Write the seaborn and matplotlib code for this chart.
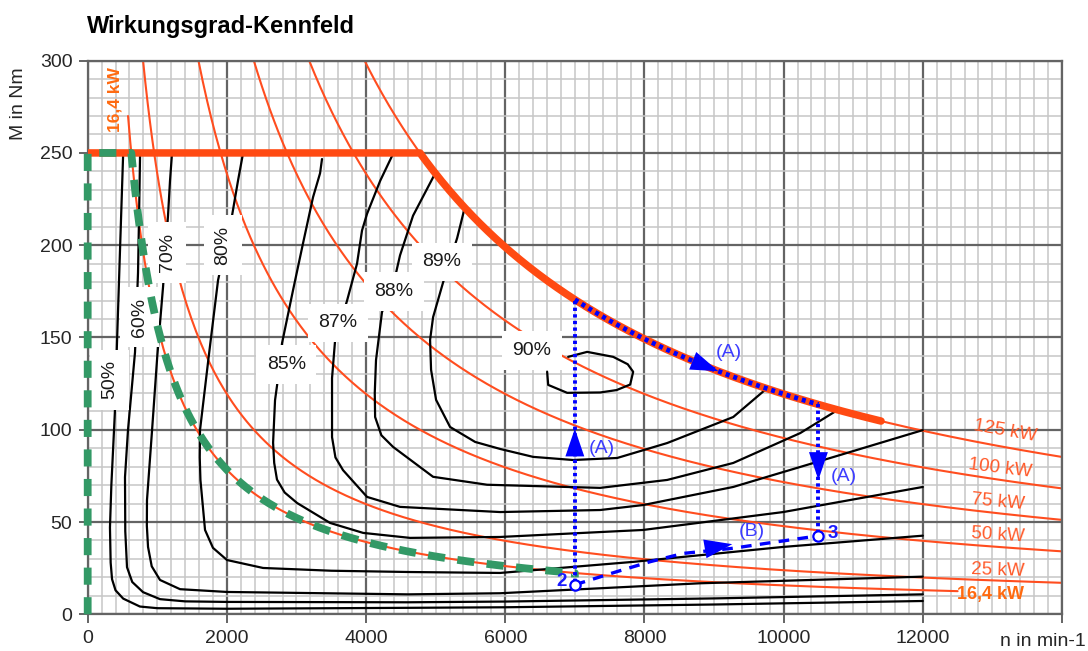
import numpy as np
import matplotlib
matplotlib.use("Agg")
import matplotlib.pyplot as plt
import seaborn as sns
from matplotlib.ticker import MultipleLocator

# ---------------------------------------------------------------- axes ticks
speed_ticks = [0, 2000, 4000, 6000, 8000, 10000, 12000, 14000]
speed_tick_labels = ["0", "2000", "4000", "6000", "8000", "10000", "12000", ""]
torque_ticks = [0, 50, 100, 150, 200, 250, 300]

# ---------------------------------------------------- constant-power curves
power_kw = [25, 50, 75, 100, 125]
power_labels = ["25 kW", "50 kW", "75 kW", "100 kW", "125 kW"]
power_label_n = [13085, 13085, 13085, 13114, 13186]
power_label_m = [24.0, 43.0, 60.9, 79.3, 99.4]
power_label_rot = [-2.0, -3.6, -5.4, -7.0, -10.0]

part_load_kw = 16.4
part_load_text = "16,4 kW"
part_load_start_m = 270
part_load_end_n = 12500

# full-load limit: constant torque, then constant power
max_torque = 250
max_power = 125
max_curve_end_n = 11400

# ------------------------------------------------ efficiency iso-lines
eta50_n = [510, 465, 420, 390, 340, 320, 330, 350, 400, 510, 750, 1000, 2000, 4600, 6000, 9000, 12000]
eta50_m = [250, 198, 146, 109, 70, 47, 28, 19, 13, 8.5, 4.2, 3.3, 3.0, 3.5, 3.8, 5.3, 7.2]

eta60_n = [753, 740, 723, 680, 579, 536, 540, 565, 640, 795, 1039, 1400, 2000, 4600, 6000, 9000, 12000]
eta60_m = [250, 220, 185, 142, 99.8, 74.3, 45, 25.5, 17.5, 12.0, 8.2, 7.0, 6.7, 6.5, 6.9, 8.6, 10.8]

eta70_n = [1212, 1183, 1154, 1083, 1000, 925, 852, 850, 867, 920, 1039, 1327, 2000, 4600, 5926, 8800, 12000]
eta70_m = [250, 235, 216, 177.5, 140, 99.8, 61.9, 48, 36.5, 26, 18.6, 13.6, 12.1, 10.8, 11.4, 16.8, 20.4]

eta80_n = [2233, 2160, 2074, 1873, 1740, 1614, 1610, 1620, 1686, 1800, 2002, 2520, 3500, 4632, 5926, 7838, 9994, 12000]
eta80_m = [250, 235, 216, 181, 140, 99.8, 85, 72.8, 45.7, 36, 29.4, 25.1, 23.6, 22.9, 22.4, 28.4, 36.5, 42.6]

eta85_n = [3367, 3339, 3238, 3094, 2951, 2793, 2721, 2692, 2664, 2680, 2720, 2830, 3009, 3483, 3958, 4632, 5926, 7982, 9994, 12000]
eta85_m = [246.7, 239, 226, 201, 175.7, 147, 124, 116, 93, 82, 73, 66, 60.3, 49.5, 44.1, 41.4, 41.9, 45.7, 55.4, 69]

eta87_n = [4394, 4204, 4014, 3942, 3870, 3727, 3554, 3511, 3511, 3560, 3669, 4014, 4488, 5926, 7364, 7982, 9276, 10714, 12000]
eta87_m = [250, 235, 217, 208, 190, 170, 148, 128, 96, 85, 78.1, 63.6, 58.2, 55.4, 56.5, 59.2, 69, 85.2, 99.8]

eta88_n = [4994, 4675, 4488, 4388, 4229, 4143, 4125, 4130, 4220, 4388, 4963, 5739, 7364, 8327, 9276, 10239, 10771]
eta88_m = [239, 216, 194.5, 178, 163.8, 137.8, 120, 106.9, 97, 90.7, 74.5, 70.2, 68.5, 72.8, 82, 98.2, 110.6]

eta89_n = [5424, 5309, 5108, 4963, 4920, 4934, 5006, 5207, 5567, 5926, 6400, 6975, 7608, 8327, 9276, 9765]
eta89_m = [221.3, 203.9, 180, 161, 148.7, 132.5, 116.2, 101.5, 93.4, 89.6, 85.3, 83.6, 84.7, 92.8, 106.9, 122.6]

eta90_n = [6904, 7177, 7551, 7760, 7838, 7795, 7600, 7364, 6890, 6617, 6602]
eta90_m = [139.5, 142.2, 139.5, 135.5, 131.4, 124.5, 121.5, 120.2, 120, 124.3, 131.4]

eta_labels = ["50%", "60%", "70%", "80%", "85%", "87%", "88%", "89%", "90%"]
eta_label_n = [313, 745, 1140, 1945, 2853, 3598, 4402, 5092, 6386]
eta_label_m = [127, 161, 196, 200, 135.4, 158, 175, 191, 143]
eta_label_rot = [90, 90, 90, 90, 0, 0, 0, 0, 0]

# ----------------------------------------------- operating-point path
point2 = (7000, 16)
point3 = (10500, 42.5)
path_b_n = [7000, 7603, 8082, 8561, 9279, 9759, 10500]
path_b_m = [16, 23.1, 28.5, 33.0, 35.8, 38.5, 42.5]
green_end_m = 20

# ----------------------------------------------------------------- styles
ORANGE = "#ff4d1f"
ORANGE_THICK = "#ff4a12"
ORANGE_TEXT = "#ff5a2a"
ORANGE_BOLD = "#ff6a10"
GREEN = "#339966"
BLUE = "#0000ff"
BLUE_TEXT = "#3c3cff"
MAJOR = "#646464"
MINOR = "#c6c6c6"

K = 60000.0 / (2.0 * np.pi)  # M[Nm] = P[kW] * K / n[1/min]

sns.set_theme(style="white")
plt.rcParams["font.family"] = ["Liberation Sans", "DejaVu Sans"]

fig = plt.figure(figsize=(10.88, 6.51), dpi=100)
ax = fig.add_axes([0.0806, 0.0564, 0.8955, 0.8504])
ax.set_xlim(0, 14000)
ax.set_ylim(0, 300)

ax.xaxis.set_major_locator(MultipleLocator(2000))
ax.xaxis.set_minor_locator(MultipleLocator(200))
ax.yaxis.set_major_locator(MultipleLocator(50))
ax.yaxis.set_minor_locator(MultipleLocator(10))
ax.grid(which="minor", color=MINOR, lw=1.1, zorder=0)
ax.grid(which="major", color=MAJOR, lw=1.6, zorder=0.5)
ax.set_axisbelow(True)
ax.set_xticks(speed_ticks)
ax.set_xticklabels(speed_tick_labels)
ax.set_yticks(torque_ticks)
ax.tick_params(which="major", length=6.5, width=1.4, color=MAJOR, pad=4.5,
               labelsize=14, labelcolor="#262626", direction="out")
ax.tick_params(which="minor", length=0)
ax.tick_params(axis="x", bottom=True)
ax.tick_params(axis="y", left=True)
for sp in ax.spines.values():
    sp.set_color(MAJOR)
    sp.set_linewidth(1.6)

# constant-power hyperbolas
for p in power_kw:
    n = np.linspace(p * K / 300.0, 14000, 400)
    sns.lineplot(x=n, y=p * K / n, sort=False, estimator=None,
                 color=ORANGE, lw=1.5, zorder=2, ax=ax)
n16 = np.linspace(part_load_kw * K / part_load_start_m, part_load_end_n, 400)
sns.lineplot(x=n16, y=part_load_kw * K / n16, sort=False, estimator=None,
             color=ORANGE, lw=1.5, zorder=2, ax=ax)

# efficiency iso-lines
eta_lines = [(eta50_n, eta50_m), (eta60_n, eta60_m), (eta70_n, eta70_m),
             (eta80_n, eta80_m), (eta85_n, eta85_m), (eta87_n, eta87_m),
             (eta88_n, eta88_m), (eta89_n, eta89_m), (eta90_n, eta90_m)]
for n, m in eta_lines:
    sns.lineplot(x=n, y=m, sort=False, estimator=None,
                 color="black", lw=1.6, zorder=3, ax=ax)

for txt, n, m, r in zip(eta_labels, eta_label_n, eta_label_m, eta_label_rot):
    ax.text(n, m, txt, rotation=r, ha="center", va="center", fontsize=14,
            color="#1a1a1a", zorder=4,
            bbox=dict(boxstyle="square,pad=0.55", fc="white", ec="none"))

# full-load curve
n_corner = max_power * K / max_torque
n_fl = np.concatenate([[0.0], np.linspace(n_corner, max_curve_end_n, 300)])
m_fl = np.minimum(max_torque, max_power * K / np.maximum(n_fl, 1.0))
sns.lineplot(x=n_fl, y=m_fl, sort=False, estimator=None,
             color=ORANGE_THICK, lw=5.4, zorder=5, ax=ax)

# green driving path along the 16.4 kW line
n16c = part_load_kw * K / max_torque
n_g = np.linspace(n16c, point2[0], 300)
g_n = np.concatenate([[0, 0], n_g, [point2[0]]])
g_m = np.concatenate([[0, max_torque], part_load_kw * K / n_g, [green_end_m]])
line_g, = ax.plot(g_n, g_m, color=GREEN, lw=5.6, zorder=6, clip_on=False)
line_g.set_dashes([2.2, 1.6])
line_g.set_dash_capstyle("butt")

# blue path (A): up at point 2, along the full-load curve, down to point 3
a1, = ax.plot([point2[0], point2[0]], [point2[1] + 1.5, max_power * K / point2[0]],
              color=BLUE, lw=2.8, zorder=7)
n_a = np.linspace(point2[0], point3[0], 200)
a2, = ax.plot(n_a, max_power * K / n_a, color=BLUE, lw=3.4, zorder=7)
a3, = ax.plot([point3[0], point3[0]], [max_power * K / point3[0], point3[1] + 1.5],
              color=BLUE, lw=2.8, zorder=7)
for ln in (a1, a2, a3):
    ln.set_dashes([0.85, 0.85])
    ln.set_dash_capstyle("butt")

# blue path (B): point 2 to point 3
b, = ax.plot(path_b_n, path_b_m, color=BLUE, lw=2.4, zorder=7)
b.set_dashes([3.2, 2.5])
b.set_dash_capstyle("butt")

def head(tip, base):
    ax.annotate("", xy=tip, xytext=base, zorder=8,
                arrowprops=dict(arrowstyle="-|>,head_length=2.0,head_width=0.68",
                                mutation_scale=10, color=BLUE, lw=0,
                                shrinkA=0, shrinkB=0))

head((7000, 100.6), (7000, 80))
head((9063, max_power * K / 9063), (8600, max_power * K / 8600))
head((10500, 72.8), (10500, 95))
head((9262, 38.0), (8800, 35.0))

sns.scatterplot(x=[point2[0], point3[0]], y=[point2[1], point3[1]], s=55,
                facecolor="white", edgecolor=BLUE, linewidth=1.6, zorder=9, ax=ax)

for txt, xy in [("(A)", (7381, 89.8)), ("(A)", (9217, 141.6)),
                ("(A)", (10862, 74.7)), ("(B)", (9548, 44.9))]:
    ax.text(*xy, txt, ha="center", va="center", fontsize=14,
            color=BLUE_TEXT, zorder=9)
ax.text(6803, 17.5, "2", ha="center", va="center", fontsize=13.5,
        fontweight="bold", color="#1a1aff", zorder=9)
ax.text(10712, 44, "3", ha="center", va="center", fontsize=13.5,
        fontweight="bold", color="#1a1aff", zorder=9)

# power labels
for txt, n, m, r in zip(power_labels, power_label_n, power_label_m, power_label_rot):
    ax.text(n, m, txt, rotation=r, ha="center", va="center", fontsize=13.5,
            color=ORANGE_TEXT, zorder=4, rotation_mode="anchor")
ax.text(12970, 10.5, part_load_text, ha="center", va="center", fontsize=13,
        fontweight="bold", color=ORANGE_BOLD, zorder=4)
ax.text(395, 279, part_load_text, rotation=90, ha="center", va="center",
        fontsize=12.5, fontweight="bold", color=ORANGE_BOLD, zorder=4)

# titles and axis captions
fig.text(87 / 1088, 1 - 33 / 651, "Wirkungsgrad-Kennfeld", fontsize=17,
         fontweight="bold", color="black", va="baseline", ha="left")
fig.text(18.5 / 1088, 1 - 104 / 651, "M in Nm", rotation=90, fontsize=14,
         color="#262626", ha="center", va="center")
fig.text(1043 / 1088, 1 - 641 / 651, "n in min-1", fontsize=14,
         color="#262626", ha="center", va="center")

ax.set_xlabel("")
ax.set_ylabel("")
fig.savefig("out.png", dpi=100)
